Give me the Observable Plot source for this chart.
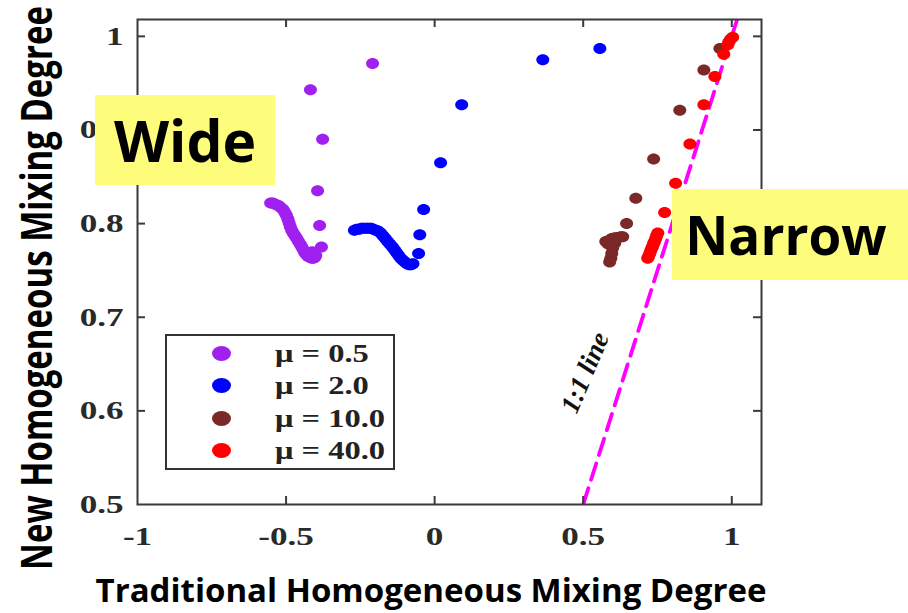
<!DOCTYPE html>
<html><head><meta charset="utf-8">
<script src="https://cdn.jsdelivr.net/npm/d3@7"></script>
<script src="https://cdn.jsdelivr.net/npm/@observablehq/plot@0.6"></script>
<style>
body{margin:0;background:#fff;}
#wrap{position:relative;width:908px;height:613px;overflow:hidden;}
#wrap svg{position:absolute;left:0;top:0;}
.box{position:absolute;background:#FDFD7B;font-family:"Open Sans",sans-serif;font-weight:700;color:#000;display:flex;align-items:center;justify-content:center;}
.title{position:absolute;font-family:"Open Sans",sans-serif;font-weight:700;color:#000;white-space:nowrap;text-align:center;line-height:40px;height:40px;}
#legend{position:absolute;left:165px;top:334px;width:226px;height:132px;border:2px solid #333;background:#fff;}
.lrow{position:absolute;left:0;height:32px;width:226px;}
.lmark{position:absolute;left:45px;top:8px;width:19px;height:15px;border-radius:50%;}
.ltext{position:absolute;left:108px;top:0;line-height:32px;font-family:"Liberation Serif",serif;font-weight:700;font-size:25px;color:#222;transform:scaleX(1.3);transform-origin:0 50%;white-space:nowrap;}
</style></head>
<body>
<div id="wrap"></div>
<script>
// ---- data ----
const mu05 = [
  [-0.418,0.943],[-0.209,0.971],[-0.377,0.890],[-0.394,0.835],[-0.387,0.798],[-0.381,0.775],
  [-0.552,0.822],[-0.545,0.822],[-0.538,0.821],[-0.531,0.820],[-0.524,0.819],[-0.517,0.817],
  [-0.510,0.815],[-0.504,0.812],[-0.499,0.809],[-0.494,0.805],[-0.490,0.801],[-0.486,0.797],
  [-0.481,0.793],[-0.476,0.790],[-0.470,0.787],[-0.464,0.784],[-0.458,0.781],[-0.452,0.778],
  [-0.447,0.775],[-0.442,0.772],[-0.437,0.769],[-0.432,0.767],[-0.426,0.765],[-0.420,0.764],
  [-0.414,0.763],[-0.408,0.763],[-0.403,0.764],[-0.400,0.766],[-0.405,0.768],[-0.412,0.770]
];
const mu2 = [
  [0.556,0.987],[0.364,0.975],[0.091,0.927],[0.020,0.865],[-0.037,0.815],[-0.050,0.788],[-0.054,0.768],
  [-0.270,0.793],[-0.262,0.794],[-0.254,0.794],[-0.246,0.795],[-0.238,0.795],[-0.230,0.795],
  [-0.222,0.795],[-0.214,0.795],[-0.206,0.794],[-0.198,0.793],[-0.190,0.792],[-0.182,0.790],
  [-0.174,0.787],[-0.166,0.784],[-0.158,0.781],[-0.150,0.778],[-0.142,0.775],[-0.135,0.772],
  [-0.128,0.769],[-0.121,0.766],[-0.114,0.763],[-0.107,0.761],[-0.100,0.759],[-0.093,0.757],
  [-0.086,0.756],[-0.079,0.756],[-0.073,0.757]
];
const mu10 = [
  [0.960,0.987],[0.906,0.964],[0.825,0.921],[0.737,0.869],[0.677,0.827],[0.646,0.800],
  [0.576,0.781],[0.586,0.782],[0.596,0.784],[0.606,0.785],[0.616,0.785],[0.626,0.786],[0.633,0.786],
  [0.606,0.779],[0.599,0.774],[0.596,0.768],[0.593,0.763],[0.589,0.759],[0.586,0.778],[0.582,0.779]
];
const mu40 = [
  [1.003,0.999],[0.996,0.997],[0.990,0.994],[0.987,0.991],[0.973,0.981],[0.943,0.957],[0.906,0.927],
  [0.859,0.885],[0.811,0.843],[0.774,0.812],
  [0.751,0.790],[0.747,0.787],[0.744,0.784],[0.740,0.781],[0.737,0.779],[0.734,0.776],[0.731,0.774],
  [0.727,0.771],[0.724,0.768],[0.720,0.765],[0.717,0.763]
];
const seriesNames = ["μ = 0.5","μ = 2.0","μ = 10.0","μ = 40.0"];
const seriesColors = ["#A020F0","#0000FF","#7B2828","#FF0000"];
const oneToOne = [0.5, 1.1];
const xTicks = [-1,-0.5,0,0.5,1];
const yTicks = [0.5,0.6,0.7,0.8,0.9,1];
const frameTicksX = [-0.5,0,0.5,1];
const frameTicksY = [0.6,0.7,0.8,0.9,1];
const lineLabel = [{x:0.506, y:0.641, text:"1:1 line"}];
const xTitle = "Traditional Homogeneous Mixing Degree";
const yTitle = "New Homogeneous Mixing Degree";

// ---- build ----
const rows = [];
[mu05, mu2, mu10, mu40].forEach((s,i)=>s.forEach(([x,y])=>rows.push({x,y,s:seriesNames[i]})));
const ellipse = {draw(ctx){const rx=6.5, ry=5.5, k=0.5523;
  ctx.moveTo(rx,0);
  ctx.bezierCurveTo(rx,ry*k,rx*k,ry,0,ry);
  ctx.bezierCurveTo(-rx*k,ry,-rx,ry*k,-rx,0);
  ctx.bezierCurveTo(-rx,-ry*k,-rx*k,-ry,0,-ry);
  ctx.bezierCurveTo(rx*k,-ry,rx,-ry*k,rx,0);
  ctx.closePath();}};
const W=908,H=613, mL=137, mT=19, mR=147, mB=109;
const pw=W-mL-mR, ph=H-mT-mB, tl=8;
const plot = Plot.plot({
  width:W, height:H, marginLeft:mL, marginTop:mT, marginRight:mR, marginBottom:mB,
  x:{domain:[-1,1.1]}, y:{domain:[0.5,1.018]},
  color:{domain:seriesNames, range:seriesColors},
  style:{background:"transparent", fontFamily:"Liberation Serif, serif", fontSize:"26px", fontWeight:"bold"},
  marks:[
    Plot.line(oneToOne.map(v=>({x:v,y:v})), {x:"x", y:"y", stroke:"#FF00FF", strokeWidth:3.8, strokeDasharray:"17,9", clip:true}),
    Plot.dot(rows, {x:"x", y:"y", fill:"s", symbol:ellipse, r:6}),
    Plot.frame({stroke:"#3a3a3a", strokeWidth:2}),
    Plot.tickX(frameTicksX, {x:d=>d, stroke:"#3a3a3a", strokeWidth:2, insetTop:ph-tl}),
    Plot.tickX(frameTicksX, {x:d=>d, stroke:"#3a3a3a", strokeWidth:2, insetBottom:ph-tl}),
    Plot.tickY(frameTicksY, {y:d=>d, stroke:"#3a3a3a", strokeWidth:2, insetRight:pw-tl}),
    Plot.tickY(frameTicksY, {y:d=>d, stroke:"#3a3a3a", strokeWidth:2, insetLeft:pw-tl}),
    Plot.axisX({ticks:xTicks, tickSize:0, tickPadding:22, tickFormat:d=>String(d), fill:"#2a2a2a", label:null}),
    Plot.axisY({ticks:yTicks, tickSize:0, tickPadding:14, tickFormat:d=>String(d), fill:"#2a2a2a", label:null}),
    Plot.text(lineLabel, {x:"x", y:"y", text:"text", rotate:-67, fontStyle:"italic", fontWeight:"bold", fontSize:27, fill:"#111"})
  ]
});
const wrap = document.getElementById("wrap");
wrap.appendChild(plot);
function stretch(sel){
  plot.querySelectorAll(sel).forEach(t=>{
    const tr=t.getAttribute("transform")||"";
    t.setAttribute("transform", `${tr} scale(1.35,1)`);
  });
}
stretch('g[aria-label="x-axis tick label"] text');
stretch('g[aria-label="y-axis tick label"] text');

// overlays
const wide = document.createElement("div"); wide.className="box";
Object.assign(wide.style,{left:"95px",top:"95px",width:"180px",height:"90px",fontSize:"57px"}); wide.textContent="Wide"; wrap.appendChild(wide);
const narrow = document.createElement("div"); narrow.className="box";
Object.assign(narrow.style,{left:"672px",top:"189px",width:"236px",height:"91px",fontSize:"53px",paddingRight:"8px",boxSizing:"border-box"}); narrow.textContent="Narrow"; wrap.appendChild(narrow);

const leg = document.createElement("div"); leg.id="legend"; wrap.appendChild(leg);
seriesNames.forEach((n,i)=>{
  const r=document.createElement("div"); r.className="lrow"; r.style.top=(2+i*32.3)+"px";
  const m=document.createElement("div"); m.className="lmark"; m.style.background=seriesColors[i];
  const t=document.createElement("div"); t.className="ltext"; t.textContent=n;
  r.appendChild(m); r.appendChild(t); leg.appendChild(r);
});

const xt=document.createElement("div"); xt.className="title"; xt.textContent=xTitle;
Object.assign(xt.style,{left:"0px",width:"862px",top:"570px",fontSize:"33px"}); wrap.appendChild(xt);
const yt=document.createElement("div"); yt.className="title"; yt.textContent=yTitle;
Object.assign(yt.style,{left:(37-300)+"px",width:"600px",top:(288-20)+"px",fontSize:"33px",transform:"rotate(-90deg) scaleY(1.28)",transformOrigin:"50% 50%"}); wrap.appendChild(yt);
</script>
</body></html>
